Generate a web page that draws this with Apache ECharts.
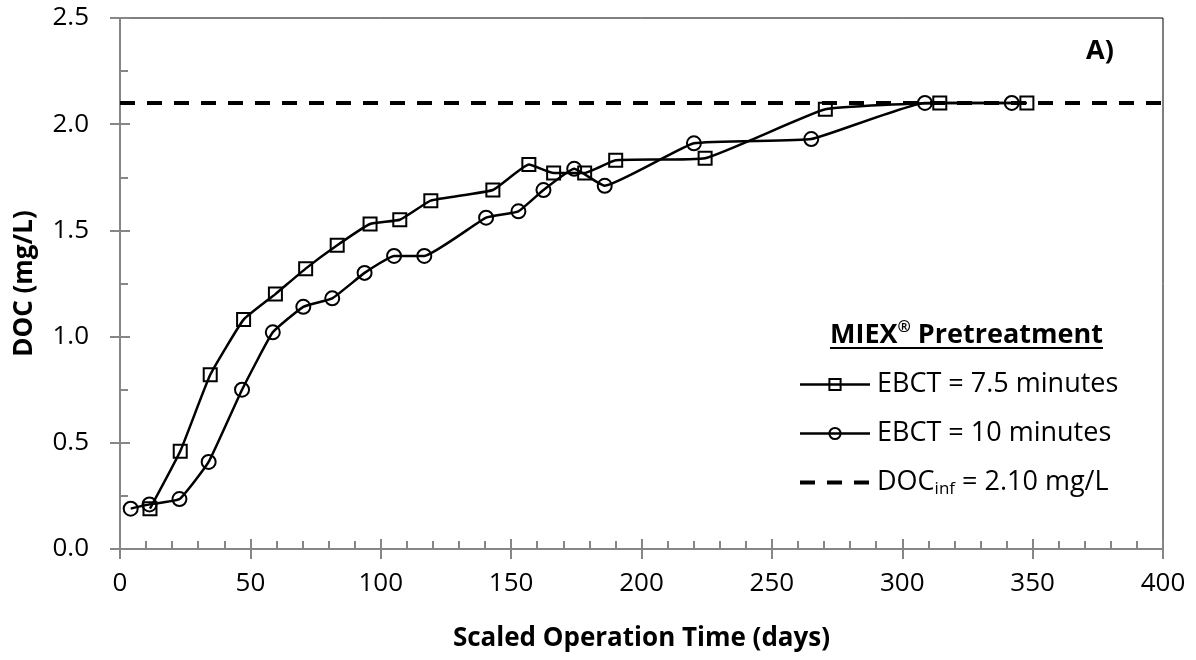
<!DOCTYPE html>
<html>
<head>
<meta charset="utf-8">
<script src="https://cdn.jsdelivr.net/npm/echarts@6/dist/echarts.min.js"></script>
<style>
  html, body { margin: 0; padding: 0; background: #fff; }
  #chart { width: 1196px; height: 660px; }
</style>
</head>
<body>
<div id="chart"></div>
<script>
// EBCT = 7.5 minutes (squares)
const ebct75Days = [11.5, 23.1, 34.6, 47.4, 59.6, 71.2, 83.3, 95.9, 107.3, 119.2, 143.0, 156.8, 166.3, 178.2, 190.1, 224.4, 270.5, 314.4, 347.8];
const ebct75Doc  = [0.19, 0.46, 0.82, 1.08, 1.20, 1.32, 1.43, 1.53, 1.55, 1.64, 1.69, 1.81, 1.77, 1.77, 1.83, 1.84, 2.07, 2.10, 2.10];

// EBCT = 10 minutes (circles)
const ebct10Days = [4.1, 11.3, 22.8, 34.0, 46.8, 58.6, 70.3, 81.4, 93.8, 105.1, 116.7, 140.4, 152.8, 162.4, 174.2, 185.9, 220.1, 265.1, 308.7, 342.0];
const ebct10Doc  = [0.19, 0.21, 0.235, 0.41, 0.75, 1.02, 1.14, 1.18, 1.30, 1.38, 1.38, 1.56, 1.59, 1.69, 1.79, 1.71, 1.91, 1.93, 2.10, 2.10];

// influent DOC reference line
const docInf = 2.10;
const docInfSpan = [0, 400];

const seriesNames = ['EBCT = 7.5 minutes', 'EBCT = 10 minutes', 'DOC_inf'];

const AXIS_GREY = '#868686';
const FONT = '"Open Sans", sans-serif';

const pairs = (xs, ys) => xs.map((x, i) => [x, ys[i]]);

const chart = echarts.init(document.getElementById('chart'));

const xBase = {
    type: 'value', min: 0, max: 400, interval: 50,
    position: 'bottom', offset: 0,
    splitLine: { show: false },
    axisLine: { show: true, lineStyle: { color: AXIS_GREY, width: 2 } }
};
const yBase = {
    type: 'value', min: 0, max: 2.5, interval: 0.5,
    position: 'left', offset: 0,
    splitLine: { show: false },
    axisLine: { show: true, lineStyle: { color: AXIS_GREY, width: 2 } }
};

chart.setOption({
    backgroundColor: '#fff',
    animation: false,
    grid: {
        left: 120, right: 33, top: 18, bottom: 111,
        containLabel: false,
        outerBoundsMode: 'none',
        show: true, borderColor: '#000', borderWidth: 1, backgroundColor: 'transparent'
    },
    xAxis: [
        Object.assign({}, xBase, {
            name: 'Scaled Operation Time (days)',
            nameLocation: 'middle',
            nameGap: 77,
            nameTextStyle: { fontFamily: FONT, fontWeight: 'bold', fontSize: 26, color: '#000' },
            axisTick: { show: true, inside: false, length: 10, lineStyle: { color: AXIS_GREY, width: 2 } },
            axisLabel: { margin: 22, fontFamily: FONT, fontSize: 26, color: '#000' }
        }),
        Object.assign({}, xBase, {
            axisTick: { show: true, inside: true, length: 10, lineStyle: { color: AXIS_GREY, width: 2 } },
            minorTick: { show: true, splitNumber: 5, length: 8, lineStyle: { color: AXIS_GREY, width: 2 } },
            axisLabel: { show: false }
        })
    ],
    yAxis: [
        Object.assign({}, yBase, {
            name: 'DOC (mg/L)',
            nameLocation: 'middle',
            nameGap: 82,
            nameTextStyle: { fontFamily: FONT, fontWeight: 'bold', fontSize: 26, color: '#000' },
            axisTick: { show: true, inside: false, length: 10, lineStyle: { color: AXIS_GREY, width: 2 } },
            axisLabel: { margin: 31, fontFamily: FONT, fontSize: 26, color: '#000', formatter: v => v.toFixed(1) }
        }),
        Object.assign({}, yBase, {
            axisTick: { show: true, inside: true, length: 10, lineStyle: { color: AXIS_GREY, width: 2 } },
            minorTick: { show: true, splitNumber: 2, length: 8, lineStyle: { color: AXIS_GREY, width: 2 } },
            axisLabel: { show: false }
        })
    ],
    legend: {
        orient: 'vertical',
        left: 798,
        top: 371,
        padding: 0,
        itemGap: 22,
        itemWidth: 70,
        itemHeight: 14,
        data: [
            { name: seriesNames[0], lineStyle: { width: 2.5 } },
            { name: seriesNames[1], lineStyle: { width: 2.5 } },
            { name: seriesNames[2], itemStyle: { opacity: 0 }, lineStyle: { width: 4, type: [15, 12] } }
        ],
        formatter: name => name === 'DOC_inf'
            ? '{a|DOC}{sub|inf}{a| = 2.10 mg/L}'
            : '{a|' + name + '}',
        textStyle: {
            padding: [0, 0, 0, 2],
            rich: {
                a: { fontFamily: FONT, fontSize: 27, color: '#000', lineHeight: 30 },
                sub: { fontFamily: FONT, fontSize: 17, color: '#000', lineHeight: 14, verticalAlign: 'bottom' }
            }
        }
    },
    graphic: [
        {
            type: 'text', left: 830, top: 319,
            style: {
                text: '{b|MIEX}{sup|®}{b| Pretreatment}',
                rich: {
                    b: { fontFamily: FONT, fontWeight: 'bold', fontSize: 27, color: '#000', lineHeight: 32 },
                    sup: { fontFamily: FONT, fontWeight: 'bold', fontSize: 16, color: '#000', lineHeight: 16, verticalAlign: 'top' }
                }
            }
        },
        {
            type: 'rect', shape: { x: 830, y: 347, width: 273, height: 2 },
            style: { fill: '#000' }
        },
        {
            type: 'text', left: 1086, top: 38,
            style: { text: 'A)', fontFamily: FONT, fontWeight: 'bold', fontSize: 27, fill: '#000' }
        }
    ],
    series: [
        {
            name: seriesNames[0],
            type: 'line',
            data: pairs(ebct75Days, ebct75Doc),
            smooth: 0.12,
            symbol: 'rect',
            symbolSize: 13,
            itemStyle: { color: 'rgba(255,255,255,0)', borderColor: '#000', borderWidth: 2 },
            lineStyle: { color: '#000', width: 2.5 },
            z: 3
        },
        {
            name: seriesNames[1],
            type: 'line',
            data: pairs(ebct10Days, ebct10Doc),
            smooth: 0.12,
            symbol: 'circle',
            symbolSize: 14,
            itemStyle: { color: 'rgba(255,255,255,0)', borderColor: '#000', borderWidth: 2 },
            lineStyle: { color: '#000', width: 2.5 },
            z: 3
        },
        {
            name: seriesNames[2],
            type: 'line',
            data: docInfSpan.map(x => [x, docInf]),
            symbol: 'none',
            itemStyle: { color: '#000' },
            lineStyle: { color: '#000', width: 4, type: [15, 12] },
            z: 2
        }
    ]
});
</script>
</body>
</html>
